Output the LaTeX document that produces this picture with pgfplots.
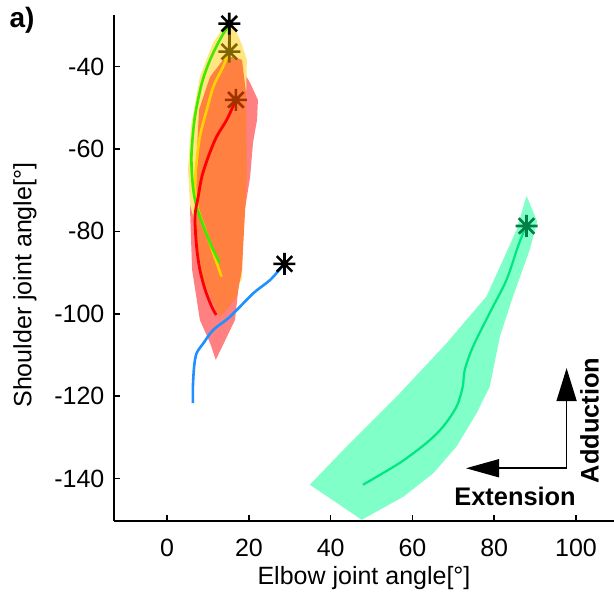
\documentclass[border=0pt]{standalone}
\usepackage{fontspec}
\setmainfont{Liberation Sans}
\usepackage{pgfplots}
\pgfplotsset{compat=1.18}
\usetikzlibrary{arrows.meta}

\definecolor{pinkfill}{RGB}{255,128,128}
\definecolor{orangefill}{RGB}{255,128,64}
\definecolor{yellowfill}{RGB}{255,230,128}
\definecolor{greenfill}{RGB}{128,255,200}
\definecolor{limeline}{RGB}{60,235,0}
\definecolor{yellowline}{RGB}{255,210,0}
\definecolor{redline}{RGB}{255,0,0}
\definecolor{blueline}{RGB}{30,144,255}
\definecolor{greenline}{RGB}{0,230,128}
\definecolor{olivestar}{RGB}{128,100,0}
\definecolor{darkredstar}{RGB}{160,50,0}
\definecolor{darkgreenstar}{RGB}{0,128,70}

\pgfdeclareplotmark{mstar}{%
 \pgfpathmoveto{\pgfqpoint{-\pgfplotmarksize}{0pt}}\pgfpathlineto{\pgfqpoint{\pgfplotmarksize}{0pt}}%
 \pgfpathmoveto{\pgfqpoint{0pt}{-\pgfplotmarksize}}\pgfpathlineto{\pgfqpoint{0pt}{\pgfplotmarksize}}%
 \pgfpathmoveto{\pgfqpoint{-0.707\pgfplotmarksize}{-0.707\pgfplotmarksize}}\pgfpathlineto{\pgfqpoint{0.707\pgfplotmarksize}{0.707\pgfplotmarksize}}%
 \pgfpathmoveto{\pgfqpoint{-0.707\pgfplotmarksize}{0.707\pgfplotmarksize}}\pgfpathlineto{\pgfqpoint{0.707\pgfplotmarksize}{-0.707\pgfplotmarksize}}%
 \pgfusepathqstroke}

\begin{document}
\begin{tikzpicture}
\begin{axis}[
  at={(0,0)}, anchor=south west,
  scale only axis, width=250pt, height=253pt,
  xmin=-13, xmax=109.3, ymin=-150.3, ymax=-27.5,
  axis x line*=bottom, axis y line*=left,
  axis line style={line width=0.9pt, -},
  tick align=inside, major tick length=3pt,
  tick style={line width=0.8pt, black},
  xtick={0,20,...,100}, ytick={-140,-120,...,-40},
  /pgf/number format/assume math mode=true,
  ticklabel style={font=\fontsize{12.5}{15}\selectfont},
  xticklabel style={anchor=center, yshift=-13.5pt},
  yticklabel style={anchor=east, xshift=-1.3pt},
  label style={font=\fontsize{12.5}{15}\selectfont},
  xlabel={Elbow joint angle[°]},
  ylabel={Shoulder joint angle[°]},
  xlabel style={at={(axis description cs:0.5,-0.1126)}, anchor=center},
  ylabel style={at={(axis description cs:-0.178,0.466)}, anchor=center},
  clip=false,
]
% shaded regions
\addplot[fill=greenfill, draw=none] coordinates {
 (87.9,-71.4) (90.5,-77.6) (88.7,-84.5) (84.6,-95.8) (81.4,-105.5) (78.9,-117.7)
 (75.7,-124.1) (70.8,-132.2) (65.1,-138.7) (57.8,-144.4) (47.6,-150.0) (34.9,-141.5)
 (44.7,-131.4) (56.9,-119.3) (68.4,-107.1) (78.1,-95.8) (85.5,-79.6)} -- cycle;
\addplot[fill=pinkfill, draw=none] coordinates {
 (17.1,-38.4) (20.3,-44.0) (22.2,-48.1) (22.0,-52.9) (21.0,-58.5) (20.3,-66.8)
 (19.0,-74.8) (18.3,-82.8) (17.3,-94.9) (16.6,-101.5) (11.9,-111.2) (10.5,-107.1)
 (8.0,-101.5) (6.1,-89.3) (5.6,-74.8) (6.3,-62.6) (8.0,-50.5) (11.7,-42.0)} -- cycle;
\addplot[fill=yellowfill, draw=none] coordinates {
 (15.4,-28.2) (18.3,-34.7) (19.5,-38.4) (19.3,-48.1) (18.8,-72.4) (18.3,-91.8)
 (14.2,-95.4) (11.7,-91.8) (8.0,-82.1) (5.6,-73.6) (5.1,-65.1) (5.8,-54.6)
 (8.0,-42.5) (11.2,-34.3)} -- cycle;
\addplot[fill=orangefill, draw=none] coordinates {
 (16.1,-37.6) (18.3,-38.4) (19.3,-46.4) (19.5,-66.8) (18.3,-89.3) (17.1,-95.8)
 (12.9,-100.9) (8.8,-91.8) (7.1,-81.3) (7.1,-72.4) (7.3,-60.2) (7.8,-50.5)
 (10.5,-42.5) (13.7,-38.4)} -- cycle;
% trajectories
\addplot[greenline, line width=1.1pt, smooth] coordinates {
 (87.9,-78.4) (85.8,-83.7) (83.0,-91.8) (78.9,-99.8) (74.8,-108.0) (72.8,-113.6)
 (72.3,-117.7) (70.8,-122.5) (67.5,-127.4) (63.5,-131.3) (56.9,-136.2) (47.9,-141.5)};
\addplot[yellowline, line width=1.3pt, smooth] coordinates {
 (15.2,-36.4) (13.7,-40.0) (11.3,-44.9) (9.7,-50.5) (8.0,-57.0) (7.1,-64.3)
 (6.8,-69.9) (7.6,-74.8) (9.3,-79.6) (11.3,-85.3) (13.3,-91.0)};
\addplot[limeline, line width=1.3pt, smooth] coordinates {
 (15.1,-29.9) (12.9,-33.5) (10.5,-38.4) (8.5,-44.0) (6.8,-52.1) (6.0,-60.2)
 (6.0,-65.1) (6.4,-69.9) (7.2,-74.0) (8.9,-78.8) (10.9,-83.7) (12.8,-87.6)};
\addplot[redline, line width=1.4pt, smooth] coordinates {
 (16.8,-48.1) (14.6,-52.9) (12.1,-57.0) (10.1,-61.8) (8.5,-66.7) (7.6,-71.6)
 (6.8,-76.4) (7.2,-83.7) (8.0,-89.3) (9.3,-94.2) (10.9,-98.3) (12.0,-100.3)};
\addplot[blueline, line width=1.3pt, smooth] coordinates {
 (28.7,-87.9) (25.2,-91.8) (21.1,-95.0) (15.4,-100.7) (11.3,-103.9) (8.9,-107.1)
 (7.2,-109.6) (6.6,-112.8) (6.3,-117.7) (6.3,-121.7)};
% start markers
\addplot[black, line width=1.3pt, only marks, mark=mstar, mark size=5.5pt] coordinates {(15.2,-29.6) (28.7,-87.9)};
\addplot[olivestar, line width=1.3pt] coordinates {(15.2,-30.5) (15.2,-36.4)};
\addplot[olivestar, line width=1.3pt, only marks, mark=mstar, mark size=5.5pt] coordinates {(15.2,-36.4)};
\addplot[darkredstar, line width=1.3pt, only marks, mark=mstar, mark size=5.5pt] coordinates {(16.8,-48.1)};
\addplot[darkgreenstar, line width=1.3pt, only marks, mark=mstar, mark size=5.5pt] coordinates {(87.9,-78.7)};
% direction arrows
\draw[line width=0.8pt, -{Triangle[length=16.5pt,width=10pt]}] (axis cs:97.7,-137.5) -- (axis cs:97.7,-113.2);
\draw[line width=0.8pt, -{Triangle[length=16.5pt,width=9pt]}] (axis cs:97.7,-137.5) -- (axis cs:73.1,-137.5);
\node[font=\bfseries\fontsize{12.7}{14}\selectfont] at (axis cs:85.1,-144.4) {Extension};
\node[font=\bfseries\fontsize{12.7}{14}\selectfont, rotate=90] at (axis cs:103.3,-125.9) {Adduction};
\end{axis}
\node[font=\bfseries\fontsize{14}{16}\selectfont] at (-46pt,250.5pt) {a)};
\pgfresetboundingbox
\path[use as bounding box] (-57pt,-41pt) rectangle (250pt,260.5pt);
\end{tikzpicture}
\end{document}
